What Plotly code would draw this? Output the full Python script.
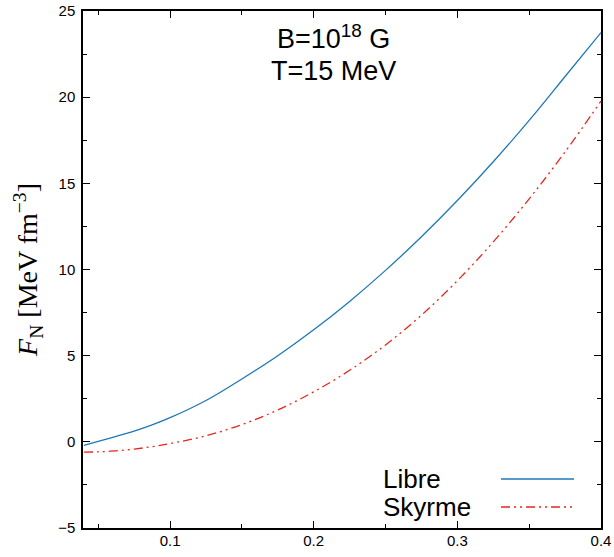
import plotly.graph_objects as go

# Data
x_vals = [0.04, 0.05, 0.0625, 0.075, 0.0875, 0.1, 0.125, 0.15, 0.175, 0.2, 0.225,
          0.25, 0.275, 0.3, 0.325, 0.35, 0.375, 0.4]
libre = [-0.21, 0.02, 0.32, 0.62, 0.98, 1.4, 2.4, 3.65, 5.0, 6.5, 8.15,
         9.95, 11.9, 14.0, 16.25, 18.65, 21.2, 23.75]
skyrme = [-0.6, -0.58, -0.52, -0.42, -0.28, -0.1, 0.35, 1.0, 1.85, 2.9, 4.15,
          5.625, 7.35, 9.35, 11.6, 14.1, 16.825, 19.775]
series_names = ["Libre", "Skyrme"]
x_ticks = [0.1, 0.2, 0.3, 0.4]
y_ticks = [-5, 0, 5, 10, 15, 20, 25]

BLUE = "#1f78b8"
RED = "#e8261c"
DASH = "9px,4px,2px,4px,2px,4px"
SANS = "Liberation Sans, Arial, sans-serif"
SERIF = "Liberation Serif, Times New Roman, serif"

fig = go.Figure()
fig.add_trace(go.Scatter(x=x_vals, y=libre, mode="lines", name=series_names[0],
                         line=dict(color=BLUE, width=1.3, shape="spline"), showlegend=False))
fig.add_trace(go.Scatter(x=x_vals, y=skyrme, mode="lines", name=series_names[1],
                         line=dict(color=RED, width=1.3, dash=DASH, shape="spline"), showlegend=False))

axis_common = dict(showline=True, linecolor="black", linewidth=1.5, mirror="allticks",
                   ticks="inside", ticklen=7, tickwidth=1, tickcolor="black",
                   showgrid=False, zeroline=False, automargin=False,
                   tickfont=dict(family=SANS, size=15, color="black"))

fig.update_xaxes(range=[0.0394, 0.4], tickvals=x_ticks, ticktext=[str(t) for t in x_ticks],
                 minor=dict(dtick=0.05, tick0=0, ticks="inside", ticklen=4, tickcolor="black"),
                 ticklabelstandoff=-2, **axis_common)
fig.update_yaxes(range=[-5, 25], tickvals=y_ticks,
                 minor=dict(dtick=2.5, tick0=0, ticks="inside", ticklen=4, tickcolor="black"),
                 title=dict(text="<i>F</i><sub>N</sub> [MeV fm<sup>−3</sup>]",
                            font=dict(family=SERIF, size=28, color="black"), standoff=12),
                 ticklabelstandoff=3, **axis_common)

# Manual legend: text on the left, line sample on the right
legend_rows = [(series_names[0], 479, BLUE, "solid"), (series_names[1], 507, RED, DASH)]
for name, ypix, col, dsh in legend_rows:
    yfrac = (557 - 29 - ypix) / (557 - 11 - 29)
    fig.add_annotation(x=(381 - 83) / 518, y=yfrac, xref="paper", yref="paper",
                       xanchor="left", yanchor="middle", text=name, showarrow=False,
                       font=dict(family=SANS, size=26, color="black"))
    fig.add_shape(type="line", xref="paper", yref="paper",
                  x0=(501 - 83) / 518, x1=(574 - 83) / 518, y0=yfrac, y1=yfrac,
                  line=dict(color=col, width=1.3, dash=dsh))

fig.add_annotation(x=(333 - 83) / 518, y=(557 - 29 - 37) / 517, xref="paper", yref="paper",
                   text="B=10<sup>18</sup> G", showarrow=False, xanchor="center", yanchor="middle",
                   font=dict(family=SANS, size=27, color="black"))
fig.add_annotation(x=(333 - 83) / 518, y=(557 - 29 - 71) / 517, xref="paper", yref="paper",
                   text="T=15 MeV", showarrow=False, xanchor="center", yanchor="middle",
                   font=dict(family=SANS, size=27, color="black"))

fig.update_layout(width=614, height=557, margin=dict(l=83, r=13, t=11, b=29),
                  plot_bgcolor="white", paper_bgcolor="white")

fig.write_html("out.html")
